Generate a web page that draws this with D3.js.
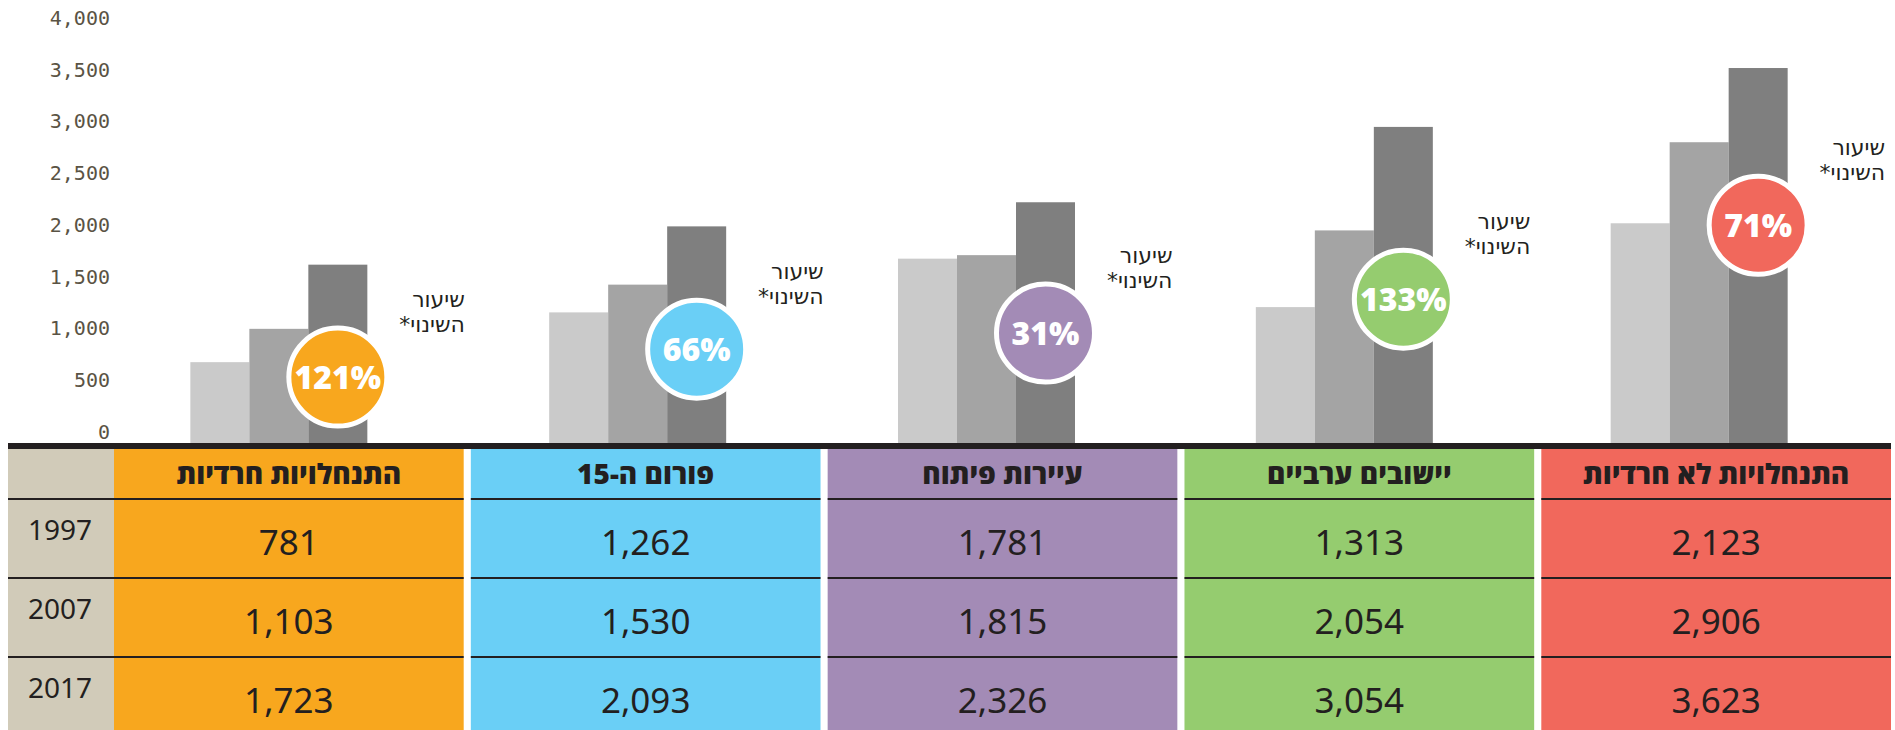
<!DOCTYPE html>
<html>
<head>
<meta charset="utf-8">
<script src="https://cdn.jsdelivr.net/npm/d3@7"></script>
<style>
  body { margin: 0; background: #fff; }
  svg { display: block; }
</style>
</head>
<body>
<svg id="figure"></svg>
<script>
var categories = ["התנחלויות חרדיות", "פורום ה-15", "עיירות פיתוח", "יישובים ערביים", "התנחלויות לא חרדיות"];
var years = ["1997", "2007", "2017"];

var values1997 = [781, 1262, 1781, 1313, 2123];
var values2007 = [1103, 1530, 1815, 2054, 2906];
var values2017 = [1723, 2093, 2326, 3054, 3623];

var changeLabels = ["121%", "66%", "31%", "133%", "71%"];
var yTicks = [0, 500, 1000, 1500, 2000, 2500, 3000, 3500, 4000];

var colColors = ["#f8a71e", "#6acff6", "#a38bb6", "#95cc6f", "#f1685c"];
var barColors = ["#cacaca", "#a4a4a4", "#7f7f7f"];

var fullWidth = 1895, fullHeight = 730;
var baseY = 443;

var svg = d3.select("#figure")
    .attr("width", fullWidth)
    .attr("height", fullHeight);

var yRange = d3.scaleLinear().domain([0, 4000]).range([baseY, 29]);

// table columns
var xCol = d3.scaleBand().domain(categories).range([114, 1891]).paddingInner(0.02);
// bar groups sit a bit left of the column centres
var groupShift = [-10, -8, -16, -15, -17];
var groupCenter = function (c, i) { return xCol(c) + xCol.bandwidth() / 2 + groupShift[i]; };
var xYear = d3.scaleBand().domain(years).range([-88.5, 88.5]);

var series = [values1997, values2007, values2017];

// y axis
var yAxis = d3.axisLeft(yRange).tickValues(yTicks).tickSize(0).tickPadding(0)
    .tickFormat(d3.format(","));
var gy = svg.append("g").attr("transform", "translate(110,0)").call(yAxis);
gy.select(".domain").remove();
gy.selectAll("text")
    .attr("y", -11)
    .attr("fill", "#5a5344")
    .style("font-family", "'DejaVu Sans Mono', monospace")
    .style("font-size", "20px");

// bars
categories.forEach(function (c, i) {
    var g = svg.append("g").attr("transform", "translate(" + groupCenter(c, i) + ",0)");
    g.selectAll("rect").data(years).enter().append("rect")
        .attr("x", function (y) { return xYear(y); })
        .attr("width", xYear.bandwidth())
        .attr("y", function (y, j) { return yRange(series[j][i]); })
        .attr("height", function (y, j) { return baseY - yRange(series[j][i]); })
        .attr("fill", function (y, j) { return barColors[j]; });
});

// change badges
var badgeLevel = [637, 907, 1062, 1390, 2104];
categories.forEach(function (c, i) {
    var cx = groupCenter(c, i) + xYear("2017") + xYear.bandwidth() / 2;
    var cy = yRange(badgeLevel[i]);
    svg.append("circle").attr("cx", cx).attr("cy", cy).attr("r", 49)
        .attr("fill", colColors[i]).attr("stroke", "#fff").attr("stroke-width", 5);
    svg.append("text").attr("x", cx).attr("y", cy).attr("dy", "0.36em")
        .attr("text-anchor", "middle")
        .attr("fill", "#fff")
        .style("font-family", "'Open Sans', sans-serif")
        .style("font-weight", 800)
        .style("font-size", "32px")
        .text(changeLabels[i]);
    [["שיעור", -78], ["השינוי*", -53]].forEach(function (t) {
        svg.append("text").attr("direction", "rtl").attr("text-anchor", "start")
            .attr("x", cx + 127).attr("y", cy + t[1]).attr("dy", "0.35em")
            .attr("fill", "#231f20")
            .style("font-family", "'DejaVu Sans', sans-serif")
            .style("font-size", "22px")
            .text(t[0]);
    });
});

// table
var tableTop = 449, tableBottom = 730, headerBottom = 499;
var yRow = d3.scaleBand().domain(years).range([headerBottom, 736]);

svg.append("rect").attr("x", 8).attr("y", tableTop).attr("width", 106)
    .attr("height", tableBottom - tableTop).attr("fill", "#d1cbb9");

svg.selectAll(".col").data(categories).enter().append("rect")
    .attr("x", function (c) { return xCol(c); })
    .attr("y", tableTop)
    .attr("width", xCol.bandwidth())
    .attr("height", tableBottom - tableTop)
    .attr("fill", function (c, i) { return colColors[i]; });

var lineYs = [headerBottom, yRow("2007"), yRow("2017")];
var segs = [[8, 114]].concat(categories.map(function (c) { return [xCol(c), xCol(c) + xCol.bandwidth()]; }));
lineYs.forEach(function (ly) {
    segs.forEach(function (s) {
        svg.append("line").attr("x1", s[0]).attr("x2", s[1]).attr("y1", ly).attr("y2", ly)
            .attr("stroke", "#231f20").attr("stroke-width", 2);
    });
});

// black baseline
svg.append("rect").attr("x", 8).attr("y", baseY).attr("width", 1883).attr("height", 6)
    .attr("fill", "#231f20");

// headers
svg.selectAll(".hdr").data(categories).enter().append("text")
    .attr("x", function (c) { return xCol(c) + xCol.bandwidth() / 2; })
    .attr("y", 474).attr("dy", "0.35em")
    .attr("text-anchor", "middle").attr("direction", "rtl")
    .attr("fill", "#231f20")
    .style("font-family", "'Open Sans', 'DejaVu Sans', sans-serif")
    .style("font-weight", 800)
    .style("font-size", "28px")
    .text(function (c) { return c; });

// years
svg.selectAll(".yr").data(years).enter().append("text")
    .attr("x", 60).attr("y", function (y) { return yRow(y) + 31; }).attr("dy", "0.35em")
    .attr("text-anchor", "middle").attr("fill", "#231f20")
    .style("font-family", "'Noto Sans', sans-serif")
    .style("font-size", "28px")
    .text(function (y) { return y; });

// values
years.forEach(function (yr, j) {
    svg.selectAll(".v" + yr).data(categories).enter().append("text")
        .attr("x", function (c) { return xCol(c) + xCol.bandwidth() / 2; })
        .attr("y", yRow(yr) + 44).attr("dy", "0.35em")
        .attr("text-anchor", "middle").attr("fill", "#231f20")
        .style("font-family", "'Noto Sans', sans-serif")
        .style("font-size", "35px")
        .text(function (c, i) { return d3.format(",")(series[j][i]); });
});
</script>
</body>
</html>
